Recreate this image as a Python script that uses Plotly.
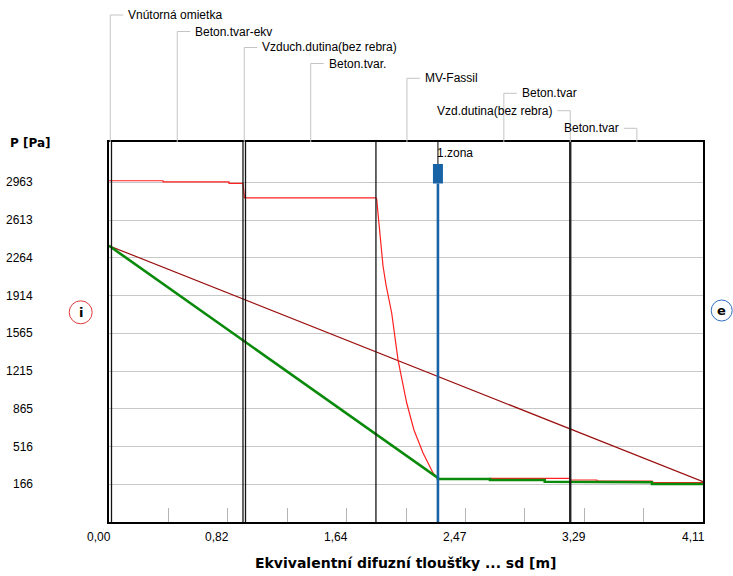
import plotly.graph_objects as go

# ---------------- data ----------------
layer_names = ["Vnútorná omietka", "Beton.tvar-ekv", "Vzduch.dutina(bez rebra)", "Beton.tvar.",
               "MV-Fassil", "Beton.tvar", "Vzd.dutina(bez rebra)", "Beton.tvar"]
layer_bounds = [0.0, 0.0173, 0.927, 0.9445, 1.847, 2.276, 3.188, 3.195, 4.11]
label_side = ["right", "right", "right", "right", "right", "right", "left", "left"]

zone_sd = 2.276
zone_label = "1.zona"

x_tickvals = [0.0, 0.822, 1.644, 2.466, 3.288, 4.11]
x_ticktext = ["0,00", "0,82", "1,64", "2,47", "3,29", "4,11"]
y_tickvals = [166, 516, 865, 1215, 1565, 1914, 2264, 2613, 2963]
y_ticktext = ["166", "516", "865", "1215", "1565", "1914", "2264", "2613", "2963"]

# saturation pressure (red)
psat_sd = [0.0, 0.374, 0.374, 0.830, 0.830, 0.927, 0.9375, 1.847, 1.852, 1.859, 1.868, 1.882, 1.896,
           1.917, 1.937, 1.956, 2.000, 2.060, 2.110, 2.173, 2.242, 2.276, 2.276, 2.636, 2.636, 3.190,
           3.190, 3.376, 3.376, 3.757, 3.757, 4.11]
psat_p = [2978, 2978, 2968, 2968, 2953, 2953, 2820, 2820, 2808, 2706, 2614, 2382, 2188,
          2012, 1870, 1753, 1317, 919, 669, 456, 271, 224, 215, 215, 222, 222,
          206, 206, 197, 197, 181, 181]

# partial pressure without condensation (dark red)
pv_sd = [0.0, 4.11]
pv_p = [2376, 190]

# partial pressure with condensation (green)
pc_sd = [0.0, 2.276, 2.276, 2.636, 2.636, 3.015, 3.015, 3.376, 3.376, 3.757, 3.757, 4.11]
pc_p = [2376, 225, 215, 215, 206, 206, 190, 190, 185, 185, 169, 169]

# ---------------- layout constants ----------------
W, H = 733, 576
ML, MR, MT, MB = 109, 30, 142, 54
PW = W - ML - MR
PH = H - MT - MB


def ypaper(py):
    return (H - MB - py) / PH


def xpaper(px):
    return (px - ML) / PW


label_rows_px = [15, 31.5, 47.5, 63.5, 78.3, 93.3, 110.7, 128.3]

FONT = "Liberation Sans"
BOLD = "DejaVu Sans"

fig = go.Figure()

fig.add_trace(go.Scatter(x=pv_sd, y=pv_p, mode="lines", line=dict(color="#9a1010", width=1.2),
                         hoverinfo="skip", showlegend=False))
fig.add_trace(go.Scatter(x=psat_sd, y=psat_p, mode="lines", line=dict(color="#ff2020", width=1.2),
                         hoverinfo="skip", showlegend=False))
fig.add_trace(go.Scatter(x=pc_sd, y=pc_p, mode="lines", line=dict(color="#0a8a0a", width=2.6),
                         hoverinfo="skip", showlegend=False))

shapes = []
annotations = []

# layer boundaries
for b in layer_bounds[1:-1]:
    if abs(b - zone_sd) < 1e-9:
        continue
    shapes.append(dict(type="line", xref="x", yref="paper", x0=b, x1=b, y0=0, y1=1,
                       line=dict(color="#141414", width=1.3), layer="above"))

# leaders and layer labels
for i, name in enumerate(layer_names):
    mid = (layer_bounds[i] + layer_bounds[i + 1]) / 2
    yl = ypaper(label_rows_px[i])
    sgn = 1 if label_side[i] == "right" else -1
    shapes.append(dict(type="line", xref="x", yref="paper", x0=mid, x1=mid, y0=1.0, y1=yl,
                       line=dict(color="#c4c4c4", width=1)))
    shapes.append(dict(type="line", xref="x", yref="paper", xsizemode="pixel", xanchor=mid,
                       x0=0, x1=13 * sgn, y0=yl, y1=yl, line=dict(color="#c4c4c4", width=1)))
    annotations.append(dict(x=mid, y=yl, xref="x", yref="paper", text=name, showarrow=False,
                            xanchor="left" if sgn > 0 else "right", yanchor="middle",
                            xshift=16 * sgn, font=dict(family=FONT, size=12, color="black")))

# condensation zone marker
blue = "#1862a6"
shapes.append(dict(type="line", xref="x", yref="paper", x0=zone_sd, x1=zone_sd, y0=1.0,
                   y1=ypaper(164), line=dict(color="black", width=1)))
shapes.append(dict(type="rect", xref="x", yref="paper", xsizemode="pixel", xanchor=zone_sd,
                   x0=-5, x1=5, y0=ypaper(183.5), y1=ypaper(164), fillcolor=blue,
                   line=dict(color=blue, width=0), layer="above"))
shapes.append(dict(type="line", xref="x", yref="paper", x0=zone_sd, x1=zone_sd, y0=0,
                   y1=ypaper(183.5), line=dict(color=blue, width=2.6), layer="above"))
annotations.append(dict(x=zone_sd, y=ypaper(152.5), xref="x", yref="paper", text=zone_label,
                        showarrow=False, xanchor="left", yanchor="middle", xshift=-3,
                        font=dict(family=FONT, size=12, color="black")))

# i / e circles
for txt, px, py, r, col in [("i", 80.7, 312.3, 11.5, "#e03a3a"), ("e", 721.7, 310.5, 10.5, "#2f6fbf")]:
    xa = xpaper(px)
    ya = ypaper(py)
    shapes.append(dict(type="circle", xref="paper", yref="paper", xsizemode="pixel", ysizemode="pixel",
                       xanchor=xa, yanchor=ya, x0=-r, x1=r, y0=-r, y1=r,
                       line=dict(color=col, width=1)))
    annotations.append(dict(x=xa, y=ya, xref="paper", yref="paper", text="<b>%s</b>" % txt,
                            showarrow=False, xanchor="center", yanchor="middle",
                            font=dict(family=BOLD, size=13, color="black")))

# tick labels (x: right-aligned to tick, y: right-aligned in left column)
for v, t in zip(x_tickvals, x_ticktext):
    annotations.append(dict(x=v, y=ypaper(537), xref="x", yref="paper", text=t, showarrow=False,
                            xanchor="right", yanchor="middle", xshift=3.5,
                            font=dict(family=FONT, size=12, color="black")))
for v, t in zip(y_tickvals, y_ticktext):
    annotations.append(dict(x=xpaper(35), y=v, xref="paper", yref="y", text=t, showarrow=False,
                            xanchor="right", yanchor="middle",
                            font=dict(family=FONT, size=12, color="black")))

# axis titles
annotations.append(dict(x=xpaper(8), y=ypaper(143), xref="paper", yref="paper",
                        text="<b>P [Pa]</b>", showarrow=False, xanchor="left", yanchor="middle",
                        font=dict(family=BOLD, size=12, color="black")))
annotations.append(dict(x=0.5, y=ypaper(563), xref="paper", yref="paper",
                        text="<b>Ekvivalentní difuzní tloušťky ... sd [m]</b>", showarrow=False,
                        xanchor="center", yanchor="middle",
                        font=dict(family=BOLD, size=14, color="black")))

fig.update_layout(
    width=W, height=H, autosize=False,
    margin=dict(l=ML, r=MR, t=MT, b=MB, pad=0),
    paper_bgcolor="white", plot_bgcolor="white",
    shapes=shapes, annotations=annotations, showlegend=False,
    xaxis=dict(range=[0, 4.11], tickvals=x_tickvals, showticklabels=False,
               ticks="inside", ticklen=14, tickcolor="#b4b4b4", tickwidth=1,
               minor=dict(tick0=0, dtick=0.411, ticks="inside", ticklen=14, tickcolor="#b4b4b4",
                          tickwidth=1, showgrid=False),
               showgrid=False, zeroline=False, showline=True, linecolor="black", linewidth=2,
               mirror=True, fixedrange=True),
    yaxis=dict(range=[-183, 3337], tickvals=y_tickvals, showticklabels=False, ticks="",
               showgrid=True, gridcolor="#c8c8c8", gridwidth=1, zeroline=False, showline=True,
               linecolor="black", linewidth=2, mirror=True, fixedrange=True),
)

fig.write_html("out.html")
